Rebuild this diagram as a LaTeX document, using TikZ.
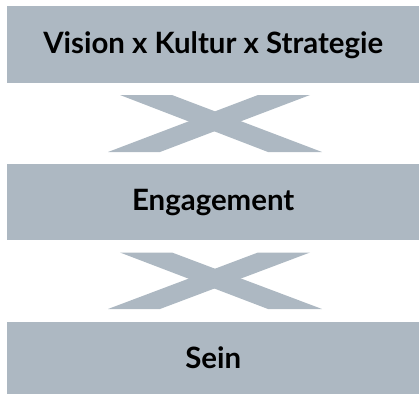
\documentclass[tikz,border=0pt]{standalone}
\usepackage{fontspec}
\setmainfont{Lato}
\definecolor{slate}{HTML}{ADB8C2}
\begin{document}
\begin{tikzpicture}[x=1bp,y=-1bp,
  band/.style={fill=slate, draw=none, inner sep=0pt, anchor=north west,
    minimum width=412bp},
  label/.style={font=\bfseries\fontsize{29.5}{32}\selectfont, text=black, inner sep=0pt},
  cross/.style={fill=slate, draw=none}]
\useasboundingbox (0,0) rectangle (419,394);
% three horizontal bands
\node[band, minimum height=77bp] (top) at (7,6) {};
\node[label] at ([yshift=-1bp]top.center) (toptext) {Vision x Kultur x Strategie};
\node[band, minimum height=76bp] (mid) at (7,164) {};
\node[label] at (mid.center) (midtext) {Engagement};
\node[band, minimum height=72bp] (bot) at (7,322) {};
\node[label] at (bot.center) (bottext) {Sein};
% crossed bars between the bands
\foreach \ya/\yb in {95/152, 252.5/309}{
  \fill[cross] (120,\ya) -- (172,\ya) -- (322,\yb) -- (268,\yb) -- cycle;
  \fill[cross] (258,\ya) -- (310,\ya) -- (160,\yb) -- (108,\yb) -- cycle;
}
\end{tikzpicture}
\end{document}
